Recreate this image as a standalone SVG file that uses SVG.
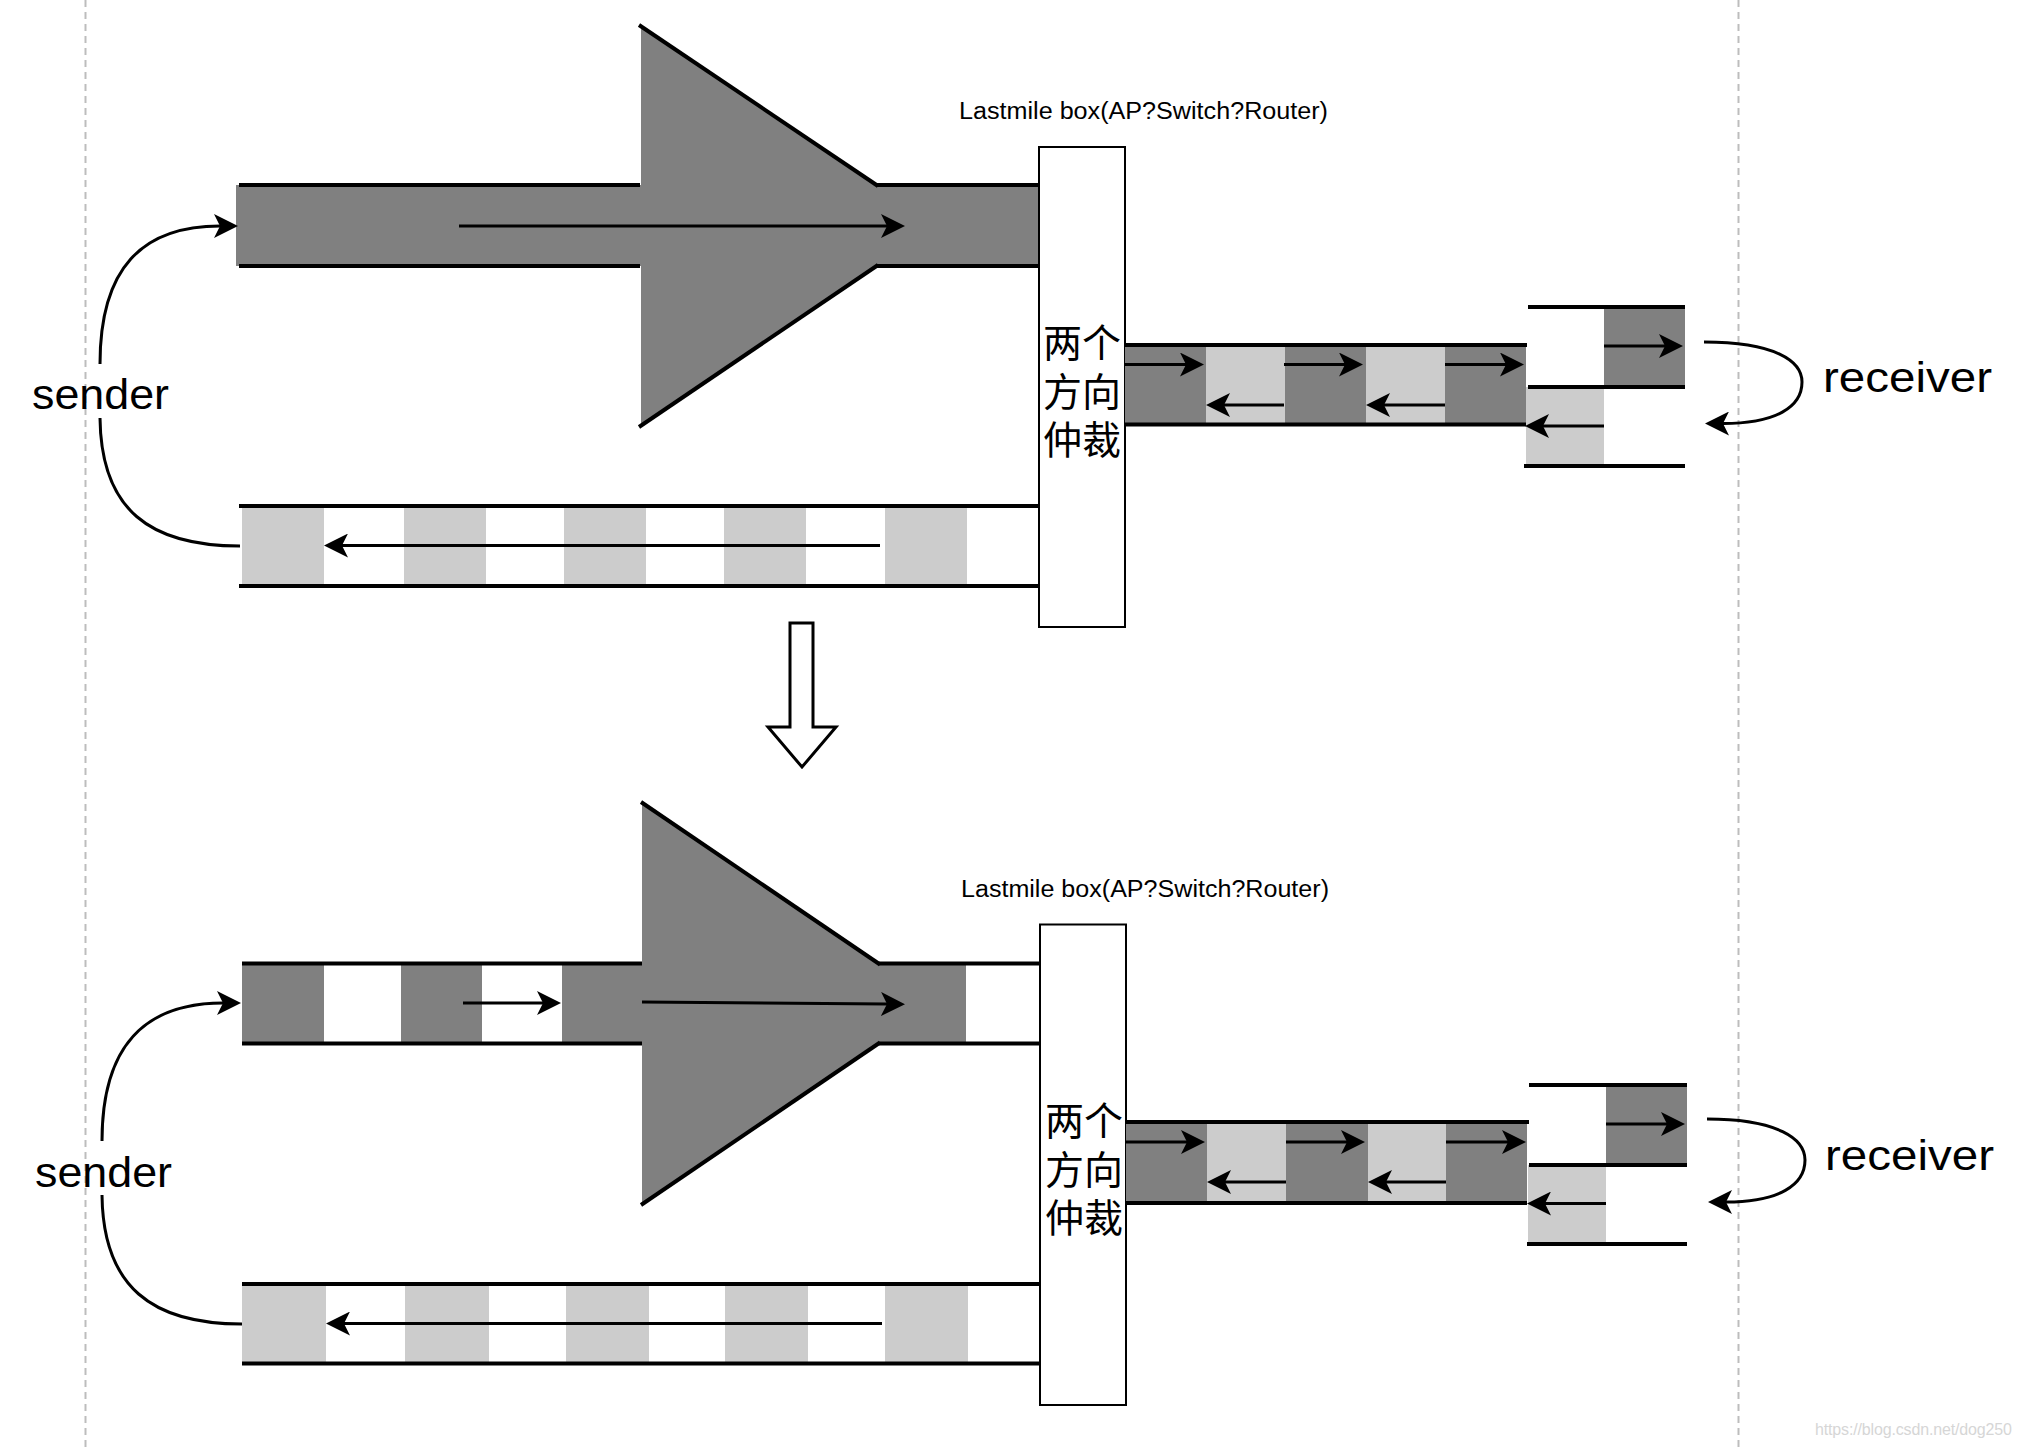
<svg xmlns="http://www.w3.org/2000/svg" width="2022" height="1448" viewBox="0 0 2022 1448">
<style>
.edge{stroke:#000;stroke-width:4;fill:none}
.dk{fill:#808080}
.lt{fill:#cccccc}
.arr{stroke:#000;stroke-width:3;fill:none;marker-end:url(#ah)}
.crv{stroke:#000;stroke-width:3;fill:none}
.box{fill:#fff;stroke:#000;stroke-width:2}
.dash{stroke:#bdbdbd;stroke-width:2;stroke-dasharray:7 5}
.hand{font-family:"Comic Sans MS","Liberation Sans",sans-serif;fill:#000}
.cjk{font-family:"Noto Sans CJK SC",sans-serif;font-size:39px;fill:#000;text-anchor:middle}
.wm{font-family:"Liberation Sans Narrow","Liberation Sans",sans-serif;font-size:16px;fill:#d6d6d6}
</style>
<defs>
<marker id="ah" markerWidth="24" markerHeight="24" viewBox="0 -12 24 24" refX="6" refY="0" orient="auto" markerUnits="userSpaceOnUse">
<path d="M24,0 L0,-12 L6,0 L0,12 Z" fill="#000"/>
</marker>
</defs>
<rect width="2022" height="1448" fill="#fff"/>
<g id="guides">
<line class="dash" x1="85.5" y1="0" x2="85.5" y2="1448"/>
<line class="dash" x1="1738.5" y1="0" x2="1738.5" y2="1448"/>
</g>

<!-- ===== TOP DIAGRAM ===== -->
<g id="top-forward-link">
<rect class="dk" x="236" y="185" width="803" height="81"/>
<polygon class="dk" points="641,26 877,185 877,266 641,426"/>
<line class="edge" x1="239" y1="185" x2="640" y2="185"/>
<line class="edge" x1="877" y1="185" x2="1039" y2="185"/>
<line class="edge" x1="239" y1="266" x2="640" y2="266"/>
<line class="edge" x1="877" y1="266" x2="1039" y2="266"/>
<line class="edge" x1="639" y1="25" x2="878" y2="186"/>
<line class="edge" x1="639" y1="427" x2="878" y2="265"/>
</g>
<g id="top-return-link">
<rect class="lt" x="242" y="506" width="82" height="80"/>
<rect class="lt" x="404" y="506" width="82" height="80"/>
<rect class="lt" x="564" y="506" width="82" height="80"/>
<rect class="lt" x="724" y="506" width="82" height="80"/>
<rect class="lt" x="885" y="506" width="82" height="80"/>
<line class="edge" x1="239" y1="506" x2="1039" y2="506"/>
<line class="edge" x1="239" y1="586" x2="1039" y2="586"/>
</g>
<g id="top-box">
<rect class="box" x="1039" y="147" width="86" height="480"/>
<text class="cjk"><tspan x="1082" y="357">两个</tspan><tspan x="1082" y="405.5">方向</tspan><tspan x="1082" y="454">仲裁</tspan></text>
</g>
<g id="top-box-label">
<text class="hand" x="959" y="119" font-size="23" textLength="369" lengthAdjust="spacingAndGlyphs">Lastmile box(AP?Switch?Router)</text>
</g>
<g id="top-access-link">
<rect class="dk" x="1125" y="345" width="81" height="79.5"/>
<rect class="lt" x="1206" y="345" width="79" height="79.5"/>
<rect class="dk" x="1285" y="345" width="81" height="79.5"/>
<rect class="lt" x="1366" y="345" width="79" height="79.5"/>
<rect class="dk" x="1445" y="345" width="81" height="79.5"/>
<line class="edge" x1="1125" y1="345" x2="1527" y2="345"/>
<line class="edge" x1="1125" y1="424.5" x2="1526" y2="424.5"/>
</g>
<g id="top-receiver-queue">
<rect class="dk" x="1604" y="307" width="81" height="80"/>
<rect class="lt" x="1526" y="387" width="78" height="78"/>
<line class="edge" x1="1528" y1="307" x2="1685" y2="307"/>
<line class="edge" x1="1528" y1="387" x2="1685" y2="387"/>
<line class="edge" x1="1524" y1="466" x2="1685" y2="466"/>
</g>
<g id="top-sender">
<text class="hand" x="32" y="409" font-size="42" textLength="137" lengthAdjust="spacingAndGlyphs">sender</text>
</g>
<g id="top-receiver">
<text class="hand" x="1823" y="392" font-size="42" textLength="169" lengthAdjust="spacingAndGlyphs">receiver</text>
</g>

<!-- transition arrow -->
<g id="transition">
<polygon points="790,623 813,623 813,727 836,727 802,767 768,727 790,727" fill="#fff" stroke="#000" stroke-width="3"/>
</g>

<!-- ===== BOTTOM DIAGRAM ===== -->
<g id="bottom-forward-link">
<rect class="dk" x="242" y="963.5" width="82" height="80"/>
<rect class="dk" x="401" y="963.5" width="81" height="80"/>
<rect class="dk" x="562" y="963.5" width="404" height="80"/>
<polygon class="dk" points="642,803 879,963.5 879,1043.5 642,1204"/>
<line class="edge" x1="242" y1="963.5" x2="642" y2="963.5"/>
<line class="edge" x1="879" y1="963.5" x2="1040" y2="963.5"/>
<line class="edge" x1="242" y1="1043.5" x2="642" y2="1043.5"/>
<line class="edge" x1="879" y1="1043.5" x2="1040" y2="1043.5"/>
<line class="edge" x1="641" y1="802" x2="880" y2="964.5"/>
<line class="edge" x1="641" y1="1205" x2="880" y2="1042.5"/>
</g>
<g id="bottom-return-link">
<rect class="lt" x="242" y="1284" width="84" height="80"/>
<rect class="lt" x="405" y="1284" width="84" height="80"/>
<rect class="lt" x="566" y="1284" width="83" height="80"/>
<rect class="lt" x="725" y="1284" width="83" height="80"/>
<rect class="lt" x="885" y="1284" width="83" height="80"/>
<line class="edge" x1="242" y1="1284" x2="1040" y2="1284"/>
<line class="edge" x1="242" y1="1363.5" x2="1040" y2="1363.5"/>
</g>
<g id="bottom-box">
<rect class="box" x="1040" y="924.5" width="86" height="480.5"/>
<text class="cjk"><tspan x="1084" y="1135">两个</tspan><tspan x="1084" y="1183.5">方向</tspan><tspan x="1084" y="1232">仲裁</tspan></text>
</g>
<g id="bottom-box-label">
<text class="hand" x="961" y="897" font-size="23" textLength="368" lengthAdjust="spacingAndGlyphs">Lastmile box(AP?Switch?Router)</text>
</g>
<g id="bottom-access-link">
<rect class="dk" x="1126" y="1122" width="81" height="81"/>
<rect class="lt" x="1207" y="1122" width="79" height="81"/>
<rect class="dk" x="1286" y="1122" width="82" height="81"/>
<rect class="lt" x="1368" y="1122" width="78" height="81"/>
<rect class="dk" x="1446" y="1122" width="81" height="81"/>
<line class="edge" x1="1126" y1="1122" x2="1529" y2="1122"/>
<line class="edge" x1="1126" y1="1203" x2="1527" y2="1203"/>
</g>
<g id="bottom-receiver-queue">
<rect class="dk" x="1606" y="1085" width="81" height="80"/>
<rect class="lt" x="1528" y="1165" width="78" height="78"/>
<line class="edge" x1="1529" y1="1085" x2="1687" y2="1085"/>
<line class="edge" x1="1529" y1="1165" x2="1687" y2="1165"/>
<line class="edge" x1="1527" y1="1244" x2="1687" y2="1244"/>
</g>
<g id="bottom-sender">
<text class="hand" x="35" y="1187" font-size="42" textLength="137" lengthAdjust="spacingAndGlyphs">sender</text>
</g>
<g id="bottom-receiver">
<text class="hand" x="1825" y="1170" font-size="42" textLength="169" lengthAdjust="spacingAndGlyphs">receiver</text>
</g>

<g id="watermark">
<text class="wm" x="1815" y="1435" textLength="197">https://blog.csdn.net/dog250</text>
</g>

<!-- ===== CONNECTORS ===== -->
<g id="connectors">
<line class="arr" x1="459" y1="226" x2="887" y2="226"/>
<line class="arr" x1="880" y1="545.5" x2="342" y2="545.5"/>
<line class="arr" x1="1124" y1="364.5" x2="1186" y2="364.5"/>
<line class="arr" x1="1284" y1="364.5" x2="1345" y2="364.5"/>
<line class="arr" x1="1445" y1="364.5" x2="1506" y2="364.5"/>
<line class="arr" x1="1284" y1="405" x2="1224" y2="405"/>
<line class="arr" x1="1445" y1="405" x2="1384" y2="405"/>
<line class="arr" x1="1604" y1="346" x2="1665" y2="346"/>
<line class="arr" x1="1604" y1="426" x2="1543" y2="426"/>
<path class="arr" d="M100,364 C100,268 142,226 220,226"/>
<path class="crv" d="M100,418 C101,510 150,546 240,546"/>
<path class="arr" d="M1704,342 C1775,342 1802,361 1802,382 C1802,407 1776,423.5 1723,423.5"/>

<line class="arr" x1="463" y1="1003" x2="543" y2="1003"/>
<line class="arr" x1="642" y1="1002" x2="887" y2="1004"/>
<line class="arr" x1="882" y1="1323.5" x2="344" y2="1323.5"/>
<line class="arr" x1="1126" y1="1142" x2="1187" y2="1142"/>
<line class="arr" x1="1286" y1="1142" x2="1347" y2="1142"/>
<line class="arr" x1="1446" y1="1142" x2="1508" y2="1142"/>
<line class="arr" x1="1286" y1="1182" x2="1225" y2="1182"/>
<line class="arr" x1="1446" y1="1182" x2="1386" y2="1182"/>
<line class="arr" x1="1606" y1="1124" x2="1667" y2="1124"/>
<line class="arr" x1="1606" y1="1203.5" x2="1545" y2="1203.5"/>
<path class="arr" d="M102,1141 C102,1046 144,1003 223,1003"/>
<path class="crv" d="M102,1195 C103,1287 152,1324 242,1324"/>
<path class="arr" d="M1707,1119 C1778,1119 1805,1139 1805,1160 C1805,1185 1779,1202 1726,1202"/>
</g>
</svg>
